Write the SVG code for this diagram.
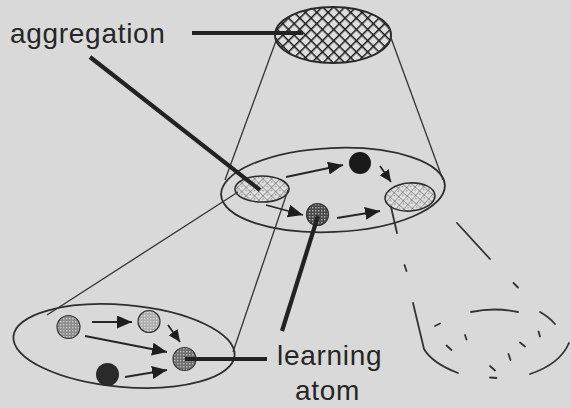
<svg xmlns="http://www.w3.org/2000/svg" width="571" height="408" viewBox="0 0 571 408">
<style>
.bg{fill:#d9d9d9}
.outline{fill:none;stroke:#2e2e2e;stroke-width:1.8}
.cone{fill:none;stroke:#333;stroke-width:1.3}
.arrow{fill:none;stroke:#262626;stroke-width:1.8}
.leader{fill:none;stroke:#222;stroke-width:4.2;stroke-linecap:butt}
.broken{fill:none;stroke:#333;stroke-width:1.8;stroke-linecap:round}
.lbl{font-family:"Liberation Sans",Arial,sans-serif;font-size:28px;letter-spacing:0.7px;fill:#262626}
.dotedge{stroke:#333;stroke-width:1.2}
</style>
<defs>
<pattern id="hatchDark" width="8" height="8" patternUnits="userSpaceOnUse" patternTransform="rotate(45)">
<rect width="8" height="8" fill="#dedede"/>
<path d="M0,0 H8 M0,0 V8" stroke="#1a1a1a" stroke-width="3"/>
</pattern>
<pattern id="hatchLight" width="6" height="6" patternUnits="userSpaceOnUse" patternTransform="rotate(45)">
<rect width="6" height="6" fill="#e2e2e2"/>
<rect x="2" y="2" width="1.5" height="1.5" fill="#999"/>
<path d="M0,0 H6 M0,0 V6" stroke="#555" stroke-width="1"/>
</pattern>
<pattern id="stip" width="3" height="3" patternUnits="userSpaceOnUse">
<rect width="1.4" height="1.4" fill="#fff" opacity="0.55"/>
</pattern>
<marker id="ah" viewBox="0 0 15 13" refX="15" refY="6.5" markerWidth="15" markerHeight="13" markerUnits="userSpaceOnUse" orient="auto">
<path d="M0,0 L15,6.5 L0,13 z" fill="#1e1e1e"/>
</marker>
<marker id="ahs" viewBox="0 0 12 11" refX="12" refY="5.5" markerWidth="12" markerHeight="11" markerUnits="userSpaceOnUse" orient="auto">
<path d="M0,0 L12,5.5 L0,11 z" fill="#1e1e1e"/>
</marker>
</defs>
<rect class="bg" x="0" y="0" width="571" height="408"/>

<g id="top-aggregate">
<ellipse cx="333" cy="35" rx="58" ry="28" fill="url(#hatchDark)" stroke="#2a2a2a" stroke-width="2"/>
</g>

<g id="middle-level">
<ellipse class="outline" cx="333" cy="190" rx="112" ry="42" transform="rotate(-2.5 333 190)"/>
</g>
<g id="mid-aggregate-left">
<ellipse cx="262" cy="189" rx="27" ry="13" fill="url(#hatchLight)" stroke="#2e2e2e" stroke-width="1.6"/>
</g>
<g id="mid-aggregate-right">
<ellipse cx="410" cy="197" rx="25" ry="14" fill="url(#hatchLight)" stroke="#2e2e2e" stroke-width="1.6" transform="rotate(-4 410 197)"/>
</g>
<g id="mid-black-dot">
<circle cx="360" cy="163" r="11" fill="#1a1a1a"/>
</g>
<g id="mid-learning-atom">
<circle cx="317.5" cy="214.5" r="11" fill="#4a4a4a"/>
<circle class="dotedge" cx="317.5" cy="214.5" r="11" fill="url(#stip)"/>
</g>

<g id="bottom-level">
<ellipse class="outline" cx="124" cy="346" rx="111" ry="41" transform="rotate(5 124 346)"/>
</g>
<g id="bottom-atom-a">
<circle cx="68.5" cy="327" r="11.5" fill="#8c8c8c"/>
<circle class="dotedge" cx="68.5" cy="327" r="11.5" fill="url(#stip)"/>
</g>
<g id="bottom-atom-b">
<circle cx="149" cy="321.5" r="11" fill="#adadad"/>
<circle class="dotedge" cx="149" cy="321.5" r="11" fill="url(#stip)"/>
</g>
<g id="bottom-learning-atom">
<circle cx="184.5" cy="359" r="11.5" fill="#6e6e6e"/>
<circle class="dotedge" cx="184.5" cy="359" r="11.5" fill="url(#stip)"/>
</g>
<g id="bottom-atom-d">
<circle cx="107.5" cy="374.5" r="11.5" fill="#2a2a2a"/>
</g>

<g id="right-sketch">
<path class="broken" d="M391,207 L397,233"/>
<path class="broken" d="M457,223 L490,259"/>
<path class="broken" d="M404.5,265 L406.5,271"/>
<path class="broken" d="M513.5,283 L518,287.5"/>
<path class="broken" d="M413,303 L424,349 Q432,363 458,373"/>
<path class="broken" d="M471,312 Q495,307 518,312"/>
<path class="broken" d="M540,312 Q549,317 555,324"/>
<path class="broken" d="M530,374 Q560,364 569,343"/>
<path class="broken" d="M435,326 L440,323.5"/>
<path class="broken" d="M465,335 L466.5,339.5"/>
<path class="broken" d="M446.5,345.5 L451.5,350"/>
<path class="broken" d="M520,342.5 L525,346.5"/>
<path class="broken" d="M538.5,331.5 L540,336.5"/>
<path class="broken" d="M508.5,354 L510.5,360"/>
<path class="broken" d="M490,366 L495,370.5"/>
<path class="broken" d="M490,377.5 L496.5,378"/>
</g>

<g id="connectors">
<path class="cone" d="M277,38 L225,180"/>
<path class="cone" d="M391,38 L443,180"/>
<path class="cone" d="M238,192 L47,315"/>
<path class="cone" d="M288,190 L233,352"/>
<path class="arrow" d="M286,177 L343,165" marker-end="url(#ah)"/>
<path class="arrow" d="M380,166 L391,182" marker-end="url(#ahs)"/>
<path class="arrow" d="M266,205 L303,215" marker-end="url(#ah)"/>
<path class="arrow" d="M337,218 L380,211" marker-end="url(#ah)"/>
<path class="arrow" d="M92,322 L132,322" marker-end="url(#ah)"/>
<path class="arrow" d="M168,325 L180,342" marker-end="url(#ahs)"/>
<path class="arrow" d="M85,336 L167,352" marker-end="url(#ah)"/>
<path class="arrow" d="M125,377 L167,370" marker-end="url(#ah)"/>
<path class="leader" d="M192,33 L303,33"/>
<path class="leader" d="M90,57 L260,190"/>
<path class="leader" d="M318,216 L282,331"/>
<path class="leader" d="M185,359 L267,359"/>
</g>

<g id="labels">
<text class="lbl" x="10" y="43">aggregation</text>
<text class="lbl" x="277" y="365">learning</text>
<text class="lbl" x="295" y="400">atom</text>
</g>
</svg>
